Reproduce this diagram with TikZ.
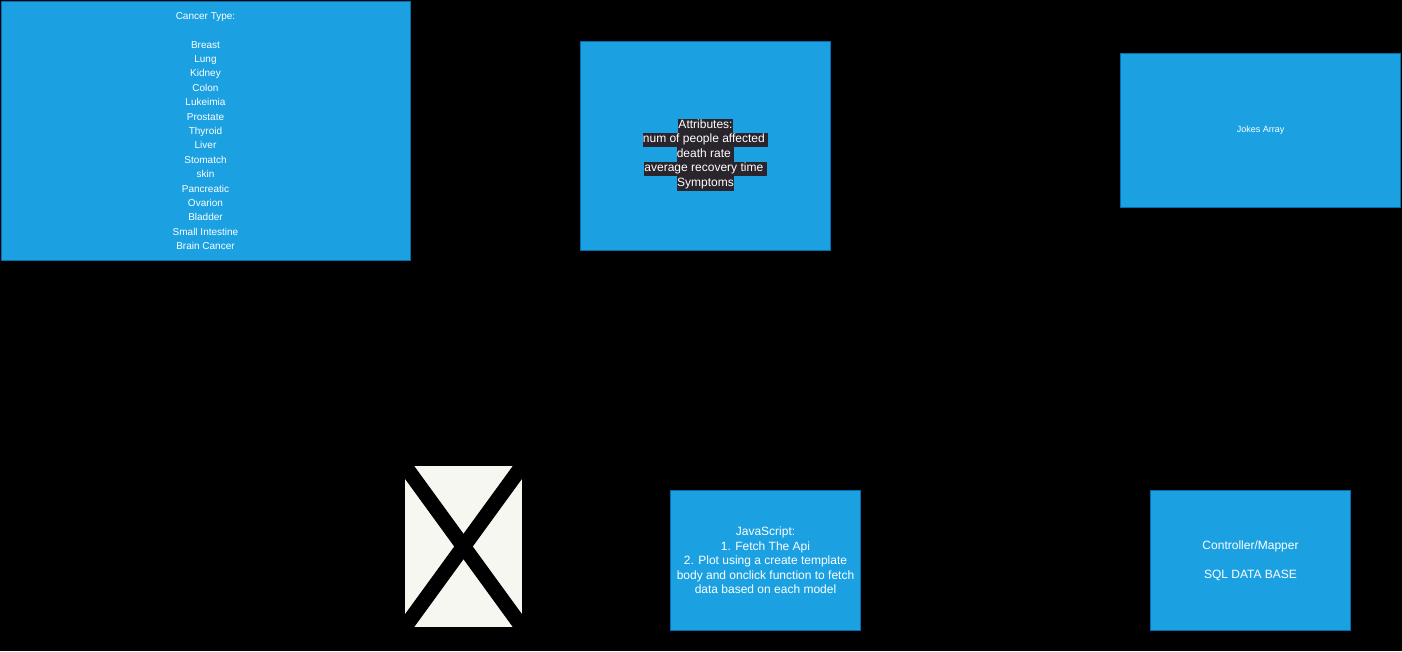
\documentclass[tikz,border=0pt]{standalone}
\usepackage{fontspec}
\setmainfont{Liberation Sans}
\usetikzlibrary{positioning}
\definecolor{boxfill}{HTML}{1BA1E2}
\definecolor{boxline}{HTML}{006EAF}
\definecolor{hlbg}{HTML}{2A252D}
\definecolor{imgfill}{HTML}{F7F7F2}
\tikzset{
box/.style={draw=boxline, fill=boxfill, line width=1pt, inner sep=0pt,
    text=white, align=center},
txtten/.style={font=\fontsize{10}{14.4}\selectfont},
txtnine/.style={font=\fontsize{9}{10.8}\selectfont},
txttwelve/.style={font=\fontsize{12}{14.4}\selectfont},
imgbox/.style={fill=imgfill, inner sep=0pt},
xline/.style={draw=black, line width=15pt}
}
\newcommand{\hlline}[1]{{\setlength{\fboxsep}{0pt}\colorbox{hlbg}{\strut #1}}}

\begin{document}
\begin{tikzpicture}[x=1pt,y=-1pt]
\path[use as bounding box, fill=black] (0,0) rectangle (1402,651);

% top row
\node[box, txtten, minimum width=409pt, minimum height=259pt] (cancer) at (205.5,131)
  {Cancer Type:\\ \\Breast\\Lung\\Kidney\\Colon\\Lukeimia\\Prostate\\Thyroid\\Liver\\
   Stomatch\\skin\\Pancreatic\\Ovarion\\Bladder\\Small Intestine\\Brain Cancer};
\node[box, minimum width=250pt, minimum height=209pt] (attr) at (705.5,145.5) {};
\node[txttwelve, text=white, align=center, inner sep=0pt] (attrlbl) at ([yshift=-9pt]attr.center)
  {\hlline{Attributes:}\\\hlline{num of people affected~}\\\hlline{death rate~}\\
   \hlline{average recovery time~}\\\hlline{Symptoms}};
\node[box, txtnine, minimum width=280pt, minimum height=154pt] (jokes) at (1260.5,130.5) {Jokes Array};

% bottom row
\node[imgbox, minimum width=117pt, minimum height=161pt] (img) at (463.5,546.5) {};
\begin{scope}
\clip (img.south west) rectangle (img.north east);
\draw[xline] (img.north west) -- (img.south east);
\draw[xline] (img.north east) -- (img.south west);
\end{scope}
\node[box, txttwelve, minimum width=190pt, minimum height=140pt] (js) at (765.5,560.5)
  {JavaScript:\\1. Fetch The Api\\2. Plot using a create template\\
   body and onclick function to fetch\\data based on each model~};
\node[box, txttwelve, minimum width=200pt, minimum height=140pt] (ctrl) at (1250.5,560.5)
  {Controller/Mapper\\ \\SQL DATA BASE};
\end{tikzpicture}
\end{document}
